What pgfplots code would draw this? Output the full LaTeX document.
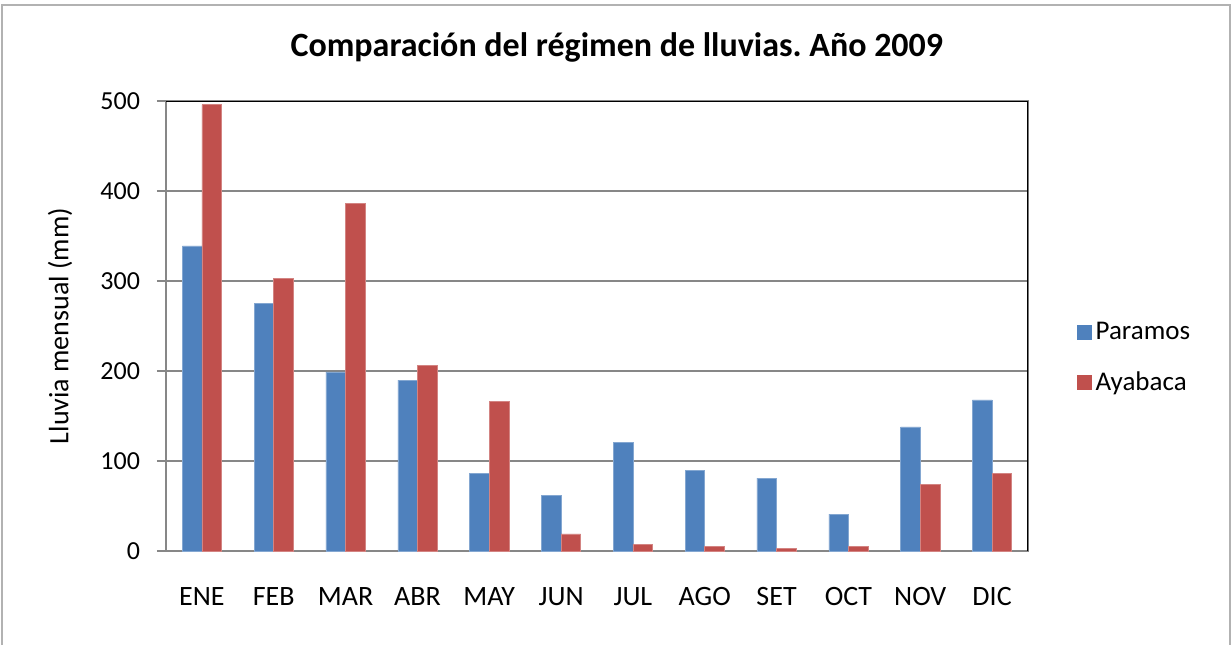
\documentclass[border=0pt]{standalone}
\usepackage{pgfplots}
\pgfplotsset{compat=1.18}
\usepackage{fontspec}
\setmainfont{Carlito}
\frenchspacing
\definecolor{cblue}{HTML}{4F81BD}
\definecolor{cred}{HTML}{C0504D}
\definecolor{gridgray}{HTML}{878787}
\begin{document}
\begin{tikzpicture}[x=1pt,y=1pt]
\path[use as bounding box] (0,0) rectangle (616,322.5);
\draw[gray!60, line width=1pt] (1,0) -- (1,320) -- (615,320) -- (615,0);
\begin{axis}[
  at={(83pt,47pt)}, anchor=south west,
  width=431pt, height=225pt, scale only axis,
  xmin=-0.5, xmax=11.5, ymin=0, ymax=500,
  ytick={0,100,...,500},
  xtick={0,...,11},
  xticklabels={ENE,FEB,MAR,ABR,MAY,JUN,JUL,AGO,SET,OCT,NOV,DIC},
  ytick pos=left,
  /pgf/number format/assume math mode=true,
  x tick style={draw=none},
  y tick style={gridgray, line width=0.8pt},
  tick align=outside, major tick length=4.5pt,
  ymajorgrids, grid style={gridgray, line width=0.8pt},
  axis line style={gridgray, line width=0.8pt},
  xticklabel style={font=\fontsize{14}{16}\selectfont, yshift=-10pt},
  yticklabel style={font=\fontsize{13}{15}\selectfont, xshift=-5pt},
  ybar=0pt, bar width=9.8pt,
  title={\bfseries Comparación del régimen de lluvias. Año 2009},
  title style={at={(0.523,1.093)}, anchor=center, font=\fontsize{17}{20}\selectfont},
  ylabel={Lluvia mensual (mm)},
  ylabel style={at={(axis description cs:-0.123,0.5)}, anchor=center, font=\fontsize{14}{16}\selectfont},
  legend style={draw=none, fill=none, at={(1.049,0.429)}, anchor=west,
    font=\fontsize{13.5}{15}\selectfont, row sep=10.5pt},
  legend cell align=left,
  legend image code/.code={\draw[#1, draw=none] (0pt,-3.75pt) rectangle (7.5pt,3.75pt);},
]
\addplot[fill=cblue, draw=cblue!70!white, line width=0.3pt] coordinates {
(0,339) (1,275) (2,199) (3,190) (4,86) (5,62) (6,121) (7,90) (8,81) (9,41) (10,138) (11,168)};
\addlegendentry{Paramos}
\addplot[fill=cred, draw=cred!70!white, line width=0.3pt] coordinates {
(0,496) (1,303) (2,386) (3,206) (4,166) (5,19) (6,7.5) (7,5) (8,3) (9,5) (10,74) (11,86)};
\addlegendentry{Ayabaca}
\draw[black, line width=0.8pt] (rel axis cs:0,1) -- (rel axis cs:1,1) -- (rel axis cs:1,0);
\end{axis}
\end{tikzpicture}
\end{document}
